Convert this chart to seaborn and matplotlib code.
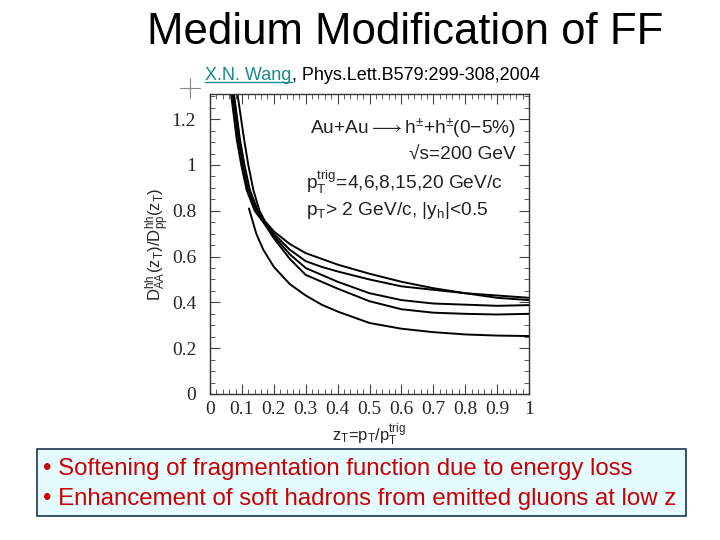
import pandas as pd
import numpy as np
import seaborn as sns
import matplotlib.pyplot as plt
from matplotlib.lines import Line2D
from matplotlib.patches import Rectangle
from matplotlib.ticker import MultipleLocator

sns.set_style("ticks")
plt.rcParams['font.family'] = ['Liberation Sans', 'DejaVu Sans']
plt.rcParams['text.color'] = 'black'
plt.rcParams['mathtext.fontset'] = 'custom'
plt.rcParams['mathtext.rm'] = 'Liberation Sans'
plt.rcParams['mathtext.it'] = 'Liberation Sans'

# curves (z_T, ratio)
z_c1 = [0.086, 0.107, 0.12, 0.136, 0.155, 0.172, 0.2, 0.25, 0.3, 0.35, 0.4, 0.5, 0.6, 0.7, 0.8, 0.9, 1.0]
r_c1 = [1.31, 1.11, 1.0, 0.89, 0.80, 0.755, 0.71, 0.655, 0.615, 0.59, 0.565, 0.525, 0.49, 0.462, 0.44, 0.42, 0.41]

z_c2 = [0.075, 0.094, 0.108, 0.125, 0.15, 0.172, 0.2, 0.25, 0.3, 0.35, 0.4, 0.5, 0.6, 0.7, 0.8, 0.9, 1.0]
r_c2 = [1.31, 1.11, 1.0, 0.89, 0.80, 0.75, 0.70, 0.63, 0.58, 0.555, 0.535, 0.50, 0.47, 0.455, 0.44, 0.43, 0.42]

z_c3 = [0.071, 0.089, 0.103, 0.12, 0.145, 0.172, 0.2, 0.25, 0.3, 0.35, 0.4, 0.5, 0.6, 0.7, 0.8, 0.9, 1.0]
r_c3 = [1.31, 1.11, 1.0, 0.89, 0.80, 0.745, 0.69, 0.61, 0.55, 0.52, 0.49, 0.44, 0.41, 0.395, 0.39, 0.385, 0.388]

z_c4 = [0.066, 0.084, 0.098, 0.115, 0.14, 0.172, 0.2, 0.25, 0.3, 0.35, 0.4, 0.5, 0.6, 0.7, 0.8, 0.9, 1.0]
r_c4 = [1.31, 1.11, 1.0, 0.89, 0.80, 0.74, 0.68, 0.59, 0.52, 0.49, 0.46, 0.405, 0.37, 0.355, 0.35, 0.347, 0.35]

z_c5 = [0.122, 0.145, 0.167, 0.2, 0.25, 0.3, 0.35, 0.4, 0.5, 0.6, 0.7, 0.8, 0.9, 1.0]
r_c5 = [0.81, 0.70, 0.63, 0.555, 0.48, 0.43, 0.39, 0.36, 0.31, 0.285, 0.27, 0.26, 0.255, 0.253]

x_ticks = [0, 0.1, 0.2, 0.3, 0.4, 0.5, 0.6, 0.7, 0.8, 0.9, 1.0]
x_labels = ['0', '0.1', '0.2', '0.3', '0.4', '0.5', '0.6', '0.7', '0.8', '0.9', '1']
y_ticks = [0, 0.2, 0.4, 0.6, 0.8, 1.0, 1.2]
y_labels = ['0', '0.2', '0.4', '0.6', '0.8', '1', '1.2']

curves = {'c1': (z_c1, r_c1), 'c2': (z_c2, r_c2), 'c3': (z_c3, r_c3),
          'c4': (z_c4, r_c4), 'c5': (z_c5, r_c5)}
df = pd.concat([pd.DataFrame({'z': z, 'r': r, 'curve': k}) for k, (z, r) in curves.items()])

fig = plt.figure(figsize=(7.2, 5.4), dpi=100)
ax = fig.add_axes([0.2917, 0.2704, 0.443, 0.5556])

sns.lineplot(data=df, x='z', y='r', hue='curve', units='curve', estimator=None,
             palette=['black'] * 5, legend=False, linewidth=1.4, ax=ax)

ax.set_xlim(0, 1)
ax.set_ylim(0, 1.31)
ax.set_xticks(x_ticks)
ax.set_xticklabels(x_labels, family='Liberation Serif', fontsize=14)
ax.set_yticks(y_ticks)
ax.set_yticklabels(y_labels, family='Liberation Serif', fontsize=14)
ax.xaxis.set_minor_locator(MultipleLocator(0.02))
ax.yaxis.set_minor_locator(MultipleLocator(0.05))
ax.tick_params(which='both', direction='in', top=True, right=True, color='#444444')
ax.tick_params(which='major', length=7, width=0.8)
ax.tick_params(axis='x', which='major', pad=5)
ax.tick_params(axis='y', which='major', pad=10)
ax.tick_params(which='minor', length=3.5, width=0.6)
for s in ax.spines.values():
    s.set_linewidth(1.0)
    s.set_color('#333333')

ax.set_xlabel(r'z$_\mathrm{T}$=p$_\mathrm{T}$/p$_\mathrm{T}^\mathrm{trig}$', fontsize=12, labelpad=3)
ax.set_ylabel(r'D$^{hh}_{AA}$(z$_\mathrm{T}$)/D$^{hh}_{pp}$(z$_\mathrm{T}$)', fontsize=12, labelpad=0)

txt_kw = dict(transform=ax.transAxes, fontsize=13.8, color='#222222')
ax.text(0.96, 0.885, r'Au+Au$\longrightarrow$h$^{\pm}$+h$^{\pm}$(0−5%)', ha='right', va='center', **txt_kw)
ax.text(0.96, 0.795, '√s=200 GeV', ha='right', va='center', **txt_kw)
ax.text(0.30, 0.705, r'p$_\mathrm{T}^\mathrm{trig}$=4,6,8,15,20 GeV/c', ha='left', va='center', **txt_kw)
ax.text(0.30, 0.612, r'p$_\mathrm{T}$> 2 GeV/c, |y$_h$|<0.5', ha='left', va='center', **txt_kw)

# slide title and citation
fig.text(0.5625, 0.94, 'Medium Modification of FF', ha='center', va='center', fontsize=31.5)
t1 = fig.text(0.285, 0.861, 'X.N. Wang', ha='left', va='center', fontsize=13, color='#1a8a8a')
fig.canvas.draw()
bb = t1.get_window_extent().transformed(fig.transFigure.inverted())
fig.text(bb.x1, 0.861, ', Phys.Lett.B579:299-308,2004', ha='left', va='center', fontsize=13)
fig.lines.append(Line2D([bb.x0, bb.x1], [bb.y0 + 0.002, bb.y0 + 0.002], transform=fig.transFigure,
                        color='#1a8a8a', linewidth=1))
fig.lines.append(Line2D([0.250, 0.278], [0.837, 0.837], transform=fig.transFigure,
                        color='#888888', linewidth=0.8))
fig.lines.append(Line2D([0.264, 0.264], [0.818, 0.856], transform=fig.transFigure,
                        color='#888888', linewidth=0.8))

# bullet box
fig.patches.append(Rectangle((0.0514, 0.044), 0.901, 0.125, transform=fig.transFigure,
                             facecolor='#e4fbff', edgecolor='#1f3550', linewidth=1.2))
fig.text(0.06, 0.132, '• Softening of fragmentation function due to energy loss',
         ha='left', va='center', fontsize=17.3, color='#cc0000')
fig.text(0.06, 0.076, '• Enhancement of soft hadrons from emitted gluons at low z',
         ha='left', va='center', fontsize=17.3, color='#cc0000')

fig.savefig('out.png', dpi=100)
